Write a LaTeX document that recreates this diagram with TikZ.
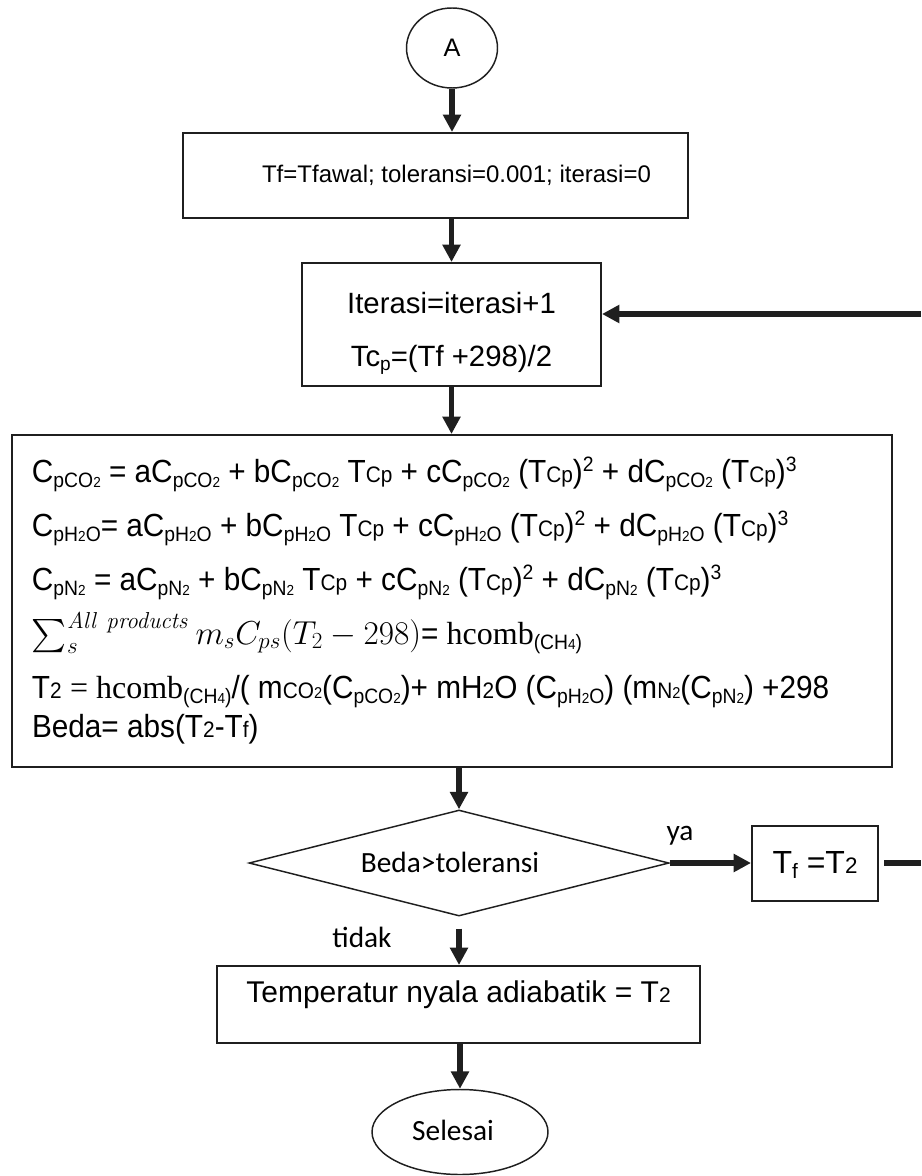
\documentclass[tikz,border=0pt]{standalone}
\usepackage{exscale}
\usepackage[no-math]{fontspec}
\setmainfont{Liberation Sans}
\newfontfamily\arialN{Liberation Sans}[FakeStretch=0.93]
\newfontfamily\calib{Carlito}
\newfontfamily\timesf{Liberation Serif}
\usetikzlibrary{shapes.geometric}
\usetikzlibrary{arrows.meta}

\newcommand{\subTxt}[1]{\raisebox{-0.3ex}{\scalebox{0.65}{#1}}}
\newcommand{\lowTxt}[1]{\scalebox{0.7}{#1}}
\newcommand{\supTxt}[1]{\raisebox{0.6ex}{\scalebox{0.65}{#1}}}
\newcommand{\cpCO}{C\subTxt{pCO\lowTxt{2}}}
\newcommand{\cpHO}{C\subTxt{pH\lowTxt{2}O}}
\newcommand{\cpN}{C\subTxt{pN\lowTxt{2}}}
\newcommand{\tcp}{T\lowTxt{Cp}}

\tikzset{
	kotak/.style={draw=black!88, rectangle, line width=1.5pt, inner sep=0pt},
	lonjong/.style={draw=black!88, ellipse, line width=1.1pt, inner sep=0pt},
	belah/.style={draw=black!88, diamond, line width=1.1pt, inner sep=0pt, shape aspect=4},
	panah/.style={draw=black!88, line width=4.3pt, -{Triangle[length=13pt,width=13pt]}},
	garis/.style={draw=black!88, line width=4.3pt},
	label/.style={font=\calib\fontsize{22}{26}\selectfont, inner sep=0pt, anchor=base}
}

\begin{document}
\begin{tikzpicture}[x=0.75pt,y=-0.75pt]
	\useasboundingbox (0,0) rectangle (921,1176);

	\coordinate (kananAtas) at (921,314);
	\coordinate (kananBawah) at (921,863);

	\node[lonjong, minimum width=68.25pt, minimum height=60pt, text height=13.5pt, text depth=0pt,
		font=\fontsize{19}{22}\selectfont] (mulai) at (452,48) {A};
	\node[kotak, minimum width=378.75pt, minimum height=63.75pt, text height=11.25pt, text depth=0pt,
		font=\fontsize{18}{22}\selectfont] (awal) at (435.5,175.5) {\hspace*{31.5pt}Tf=Tfawal; toleransi=0.001; iterasi=0};
	\node[kotak, minimum width=224.25pt, minimum height=92.25pt, text height=62.25pt, text depth=0pt] (iterasi) at (451.5,324.5)
		{\parbox[b]{224.25pt}{\centering\fontsize{22}{39.75}\selectfont
		Iterasi=iterasi+1\\
		Tc\subTxt{p}=(Tf +298)/2}};
	\node[kotak, minimum width=660pt, minimum height=249pt, text height=204pt, text depth=0pt] (hitung) at (452,601)
		{\hspace*{15pt}\parbox[b]{645pt}{\raggedright\arialN\fontsize{24}{40.5}\selectfont
		\cpCO{} = a\cpCO{} + b\cpCO{} \tcp{} + c\cpCO{} (\tcp)\supTxt{2} + d\cpCO{} (\tcp)\supTxt{3}\\
		\cpHO= a\cpHO{} + b\cpHO{} \tcp{} + c\cpHO{} (\tcp)\supTxt{2} + d\cpHO{} (\tcp)\supTxt{3}\\
		\cpN{} = a\cpN{} + b\cpN{} \tcp{} + c\cpN{} (\tcp)\supTxt{2} + d\cpN{} (\tcp)\supTxt{3}\\
		$\sum\nolimits_{s}^{\mathit{All\ products}} m_s C_{ps}(T_2-298)$= {\timesf hcomb}\subTxt{(CH\lowTxt{4})}\\
		T\lowTxt{2} {\timesf = hcomb}\subTxt{(CH\lowTxt{4})}/( m\lowTxt{CO\lowTxt{2}}(\cpCO)+ mH\lowTxt{2}O (\cpHO) (m\lowTxt{N\lowTxt{2}}(\cpN) +298\\[-11.25pt]
		Beda= abs(T\lowTxt{2}-T\lowTxt{f})}};
	\node[belah, minimum width=315pt, minimum height=79.5pt, text height=13.5pt, text depth=0pt,
		font=\calib\fontsize{22}{26}\selectfont] (cek) at (459,863) {Beda>toleransi\hspace*{13.5pt}};
	\node[kotak, minimum width=94.5pt, minimum height=56.25pt, text height=15pt, text depth=0pt,
		font=\fontsize{24}{28}\selectfont] (ganti) at (815,863) {T\subTxt{f} =T\lowTxt{2}};
	\node[kotak, minimum width=362.25pt, minimum height=57.75pt, text height=0pt, text depth=3.75pt,
		font=\fontsize{22.5}{26}\selectfont] (hasil) at (458.5,1004.5) {Temperatur nyala adiabatik = T\lowTxt{2}};
	\node[lonjong, minimum width=132pt, minimum height=63.75pt, text height=12pt, text depth=0pt,
		font=\calib\fontsize{22}{26}\selectfont] (selesai) at (460,1132) {Selesai\hspace*{10.5pt}};

	\node[label] (ya) at (680,840) {ya};
	\node[label] (tidak) at (362,947) {tidak};

	\draw[panah] (mulai.south) -- (mulai.south |- awal.north);
	\draw[panah] (awal.south -| iterasi.north) -- (iterasi.north);
	\draw[panah] (iterasi.south) -- (iterasi.south |- hitung.north);
	\draw[panah] (hitung.south -| cek.north) -- (cek.north);
	\draw[panah] (cek.east) -- (ganti.west);
	\draw[panah, shorten <=9pt] (cek.south) -- (cek.south |- hasil.north);
	\draw[panah] (hasil.south -| selesai.north) -- (selesai.north);
	\draw[garis, shorten <=3.75pt] (ganti.east) -- (kananBawah);
	\draw[panah] (kananAtas) -- (kananAtas -| iterasi.east);

\end{tikzpicture}
\end{document}
